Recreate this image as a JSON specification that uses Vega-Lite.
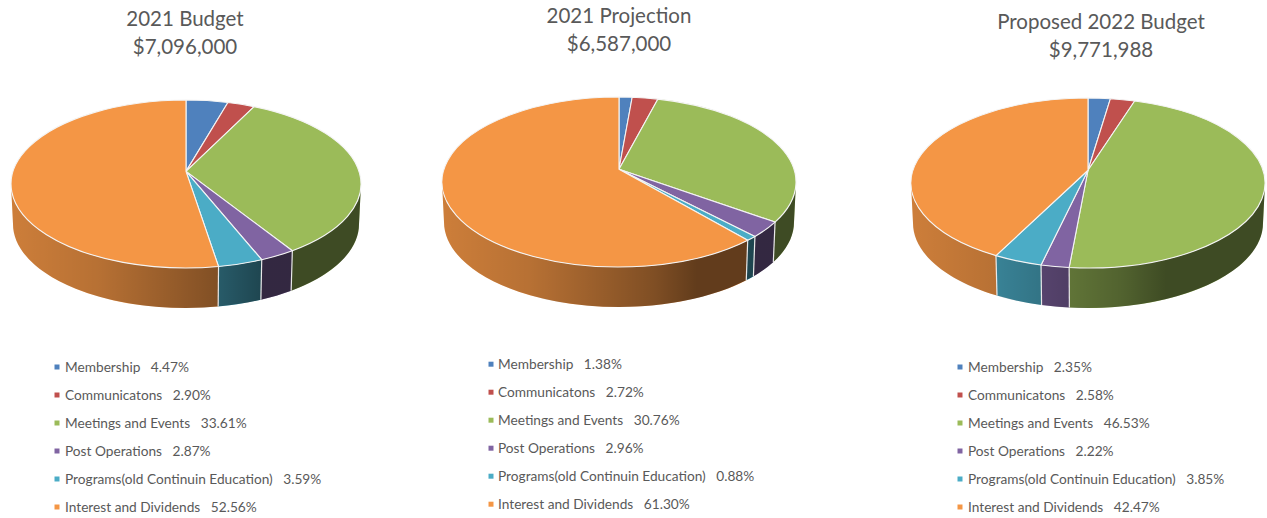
{
  "$schema": "https://vega.github.io/schema/vega-lite/v6.json",
  "autosize": {"type": "fit", "contains": "padding"},
  "width": 1267,
  "height": 518,
  "padding": 0,
  "background": "white",
  "view": {"stroke": null},
  "data": {"values": [
    {"panel": 0, "order": 0, "category": "Membership", "share": 4.47},
    {"panel": 0, "order": 1, "category": "Communicatons", "share": 2.90},
    {"panel": 0, "order": 2, "category": "Meetings and Events", "share": 33.61},
    {"panel": 0, "order": 3, "category": "Post Operations", "share": 2.87},
    {"panel": 0, "order": 4, "category": "Programs(old Continuin Education)", "share": 3.59},
    {"panel": 0, "order": 5, "category": "Interest and Dividends", "share": 52.56},
    {"panel": 1, "order": 0, "category": "Membership", "share": 1.38},
    {"panel": 1, "order": 1, "category": "Communicatons", "share": 2.72},
    {"panel": 1, "order": 2, "category": "Meetings and Events", "share": 30.76},
    {"panel": 1, "order": 3, "category": "Post Operations", "share": 2.96},
    {"panel": 1, "order": 4, "category": "Programs(old Continuin Education)", "share": 0.88},
    {"panel": 1, "order": 5, "category": "Interest and Dividends", "share": 61.30},
    {"panel": 2, "order": 0, "category": "Membership", "share": 2.35},
    {"panel": 2, "order": 1, "category": "Communicatons", "share": 2.58},
    {"panel": 2, "order": 2, "category": "Meetings and Events", "share": 46.53},
    {"panel": 2, "order": 3, "category": "Post Operations", "share": 2.22},
    {"panel": 2, "order": 4, "category": "Programs(old Continuin Education)", "share": 3.85},
    {"panel": 2, "order": 5, "category": "Interest and Dividends", "share": 42.47}
  ]},
  "transform": [
    {"stack": "share", "groupby": ["panel"], "sort": [{"field": "order", "order": "ascending"}], "as": ["s0", "s1"]},
    {"calculate": "datum.panel == 0 ? 175 : 177", "as": "rx"},
    {"calculate": "datum.rx - 2", "as": "rxb"},
    {"calculate": "datum.panel == 0 ? 84 : 85", "as": "ry"},
    {"calculate": "datum.s0 / 100 * 2 * PI", "as": "a0"},
    {"calculate": "datum.s1 / 100 * 2 * PI", "as": "a1"},
    {"calculate": "atan2(sin(datum.a0) * 0.9887, cos(datum.a0) + 0.15)", "as": "p0raw"},
    {"calculate": "atan2(sin(datum.a1) * 0.9887, cos(datum.a1) + 0.15)", "as": "p1raw"},
    {"calculate": "datum.p0raw < 0 ? datum.p0raw + 2 * PI : datum.p0raw", "as": "p0"},
    {"calculate": "datum.p1raw < 0 ? datum.p1raw + 2 * PI : datum.p1raw", "as": "p1"},
    {"calculate": "round(100 * datum.rx * sin(datum.p0)) / 100", "as": "x0"},
    {"calculate": "round(-100 * datum.ry * cos(datum.p0)) / 100", "as": "y0"},
    {"calculate": "round(100 * datum.rx * sin(datum.p1)) / 100", "as": "x1"},
    {"calculate": "round(-100 * datum.ry * cos(datum.p1)) / 100", "as": "y1"},
    {"calculate": "'M0 ' + round(-15 * datum.ry) / 100 + 'L' + datum.x0 + ' ' + datum.y0 + 'A' + datum.rx + ' ' + datum.ry + ' 0 ' + (datum.p1 - datum.p0 > PI ? 1 : 0) + ' 1 ' + datum.x1 + ' ' + datum.y1 + 'Z'", "as": "topPath"},
    {"calculate": "max(datum.p0, PI / 2)", "as": "t0"},
    {"calculate": "min(datum.p1, 3 * PI / 2)", "as": "t1"},
    {"calculate": "round(100 * datum.rx * sin(datum.t0)) / 100", "as": "rimX0"},
    {"calculate": "round(-100 * datum.ry * cos(datum.t0)) / 100", "as": "rimY0"},
    {"calculate": "round(100 * datum.rx * sin(datum.t1)) / 100", "as": "rimX1"},
    {"calculate": "round(-100 * datum.ry * cos(datum.t1)) / 100", "as": "rimY1"},
    {"calculate": "'M' + datum.rimX0 + ' ' + datum.rimY0 + 'A' + datum.rx + ' ' + datum.ry + ' 0 0 1 ' + datum.rimX1 + ' ' + datum.rimY1 + 'L' + round(100 * datum.rxb * sin(datum.t1)) / 100 + ' ' + (datum.rimY1 + 40) + 'A' + datum.rxb + ' ' + datum.ry + ' 0 0 0 ' + round(100 * datum.rxb * sin(datum.t0)) / 100 + ' ' + (datum.rimY0 + 40) + 'Z'", "as": "rimPath"},
    {"calculate": "'M' + (-datum.rx) + ' 0A' + datum.rx + ' ' + datum.ry + ' 0 0 0 ' + datum.rx + ' 0L' + datum.rxb + ' 40A' + datum.rxb + ' ' + datum.ry + ' 0 0 1 ' + (-datum.rxb) + ' 40Z'", "as": "wallPath"},
    {"calculate": "'M' + datum.x1 + ' ' + datum.y1 + 'L' + round(100 * datum.rxb * sin(datum.p1)) / 100 + ' ' + (datum.y1 + 40)", "as": "seamPath"}
  ],
  "layer": [
    {
      "description": "Coloured outer wall of each slice, front half only",
      "transform": [{"filter": "datum.t1 > datum.t0"}],
      "mark": {"type": "point", "filled": true, "opacity": 1, "size": 4, "strokeWidth": 0},
      "encoding": {
        "x": {"field": "panel", "type": "quantitative", "scale": {"domain": [0, 1, 2], "range": [186, 619, 1088]}, "axis": null},
        "y": {"field": "panel", "type": "quantitative", "scale": {"domain": [0, 1, 2], "range": [184, 182, 183]}, "axis": null},
        "shape": {"field": "rimPath", "type": "nominal", "scale": null},
        "fill": {"field": "category", "type": "nominal", "legend": null,
          "scale": {"domain": ["Membership", "Communicatons", "Meetings and Events", "Post Operations", "Programs(old Continuin Education)", "Interest and Dividends"],
                    "range": ["#4F81BD", "#C0504D", "#9BBB59", "#8064A2", "#4BACC6", "#F49645"]}}
      }
    },
    {
      "description": "Left-to-right shading across the whole wall",
      "transform": [{"filter": "datum.order == 0"}],
      "mark": {"type": "point", "filled": true, "opacity": 1, "size": 4, "strokeWidth": 0,
        "fill": {"gradient": "linear", "x1": 0, "y1": 0, "x2": 1, "y2": 0, "stops": [
          {"offset": 0, "color": "rgba(0,0,0,0.16)"},
          {"offset": 0.25, "color": "rgba(0,0,0,0.25)"},
          {"offset": 0.45, "color": "rgba(0,0,0,0.38)"},
          {"offset": 0.6, "color": "rgba(0,0,0,0.48)"},
          {"offset": 0.72, "color": "rgba(0,0,0,0.6)"},
          {"offset": 1, "color": "rgba(0,0,0,0.6)"}
        ]}},
      "encoding": {
        "x": {"field": "panel", "type": "quantitative", "scale": {"domain": [0, 1, 2], "range": [186, 619, 1088]}, "axis": null},
        "y": {"field": "panel", "type": "quantitative", "scale": {"domain": [0, 1, 2], "range": [184, 182, 183]}, "axis": null},
        "shape": {"field": "wallPath", "type": "nominal", "scale": null}
      }
    },
    {
      "description": "Light seams between slices on the wall",
      "transform": [{"filter": "datum.p1 > PI / 2 && datum.p1 < 3 * PI / 2"}],
      "mark": {"type": "point", "filled": false, "opacity": 1, "size": 4, "stroke": "#e8e8e8", "strokeWidth": 1.2},
      "encoding": {
        "x": {"field": "panel", "type": "quantitative", "scale": {"domain": [0, 1, 2], "range": [186, 619, 1088]}, "axis": null},
        "y": {"field": "panel", "type": "quantitative", "scale": {"domain": [0, 1, 2], "range": [184, 182, 183]}, "axis": null},
        "shape": {"field": "seamPath", "type": "nominal", "scale": null}
      }
    },
    {
      "description": "Top faces of the slices",
      "mark": {"type": "point", "filled": true, "opacity": 1, "size": 4, "stroke": "#f4f4f4", "strokeWidth": 1.1, "strokeJoin": "round"},
      "encoding": {
        "x": {"field": "panel", "type": "quantitative", "scale": {"domain": [0, 1, 2], "range": [186, 619, 1088]}, "axis": null},
        "y": {"field": "panel", "type": "quantitative", "scale": {"domain": [0, 1, 2], "range": [184, 182, 183]}, "axis": null},
        "shape": {"field": "topPath", "type": "nominal", "scale": null},
        "fill": {"field": "category", "type": "nominal", "legend": null,
          "scale": {"domain": ["Membership", "Communicatons", "Meetings and Events", "Post Operations", "Programs(old Continuin Education)", "Interest and Dividends"],
                    "range": ["#4F81BD", "#C0504D", "#9BBB59", "#8064A2", "#4BACC6", "#F49645"]}}
      }
    },
    {
      "description": "Legend swatches under each pie",
      "transform": [{"calculate": "datum.order + (datum.panel == 1 ? -0.1 : 0)", "as": "row"}],
      "mark": {"type": "square", "opacity": 1, "size": 25},
      "encoding": {
        "x": {"field": "panel", "type": "quantitative", "scale": {"domain": [0, 1, 2], "range": [57, 491, 960]}, "axis": null},
        "y": {"field": "row", "type": "quantitative", "scale": {"domain": [0, 5], "range": [367, 507]}, "axis": null},
        "fill": {"field": "category", "type": "nominal", "legend": null,
          "scale": {"domain": ["Membership", "Communicatons", "Meetings and Events", "Post Operations", "Programs(old Continuin Education)", "Interest and Dividends"],
                    "range": ["#4F81BD", "#C0504D", "#9BBB59", "#8064A2", "#4BACC6", "#F49645"]}}
      }
    },
    {
      "description": "Legend entries with each category's share",
      "transform": [
        {"calculate": "datum.order + (datum.panel == 1 ? -0.1 : 0)", "as": "row"},
        {"calculate": "datum.category + '\u00a0\u00a0\u00a0' + format(datum.share, '.2f') + '%'", "as": "entry"}
      ],
      "mark": {"type": "text", "align": "left", "baseline": "middle", "font": "Lato", "fontSize": 13.7, "color": "#595959"},
      "encoding": {
        "x": {"field": "panel", "type": "quantitative", "scale": {"domain": [0, 1, 2], "range": [65, 498, 968]}, "axis": null},
        "y": {"field": "row", "type": "quantitative", "scale": {"domain": [0, 5], "range": [367.5, 507.5]}, "axis": null},
        "text": {"field": "entry", "type": "nominal"}
      }
    },
    {
      "description": "Chart titles with the total for each budget",
      "data": {"values": [
        {"panel": 0, "heading": "2021 Budget\n$7,096,000"},
        {"panel": 1, "heading": "2021 Projection\n$6,587,000"},
        {"panel": 2, "heading": "Proposed 2022 Budget\n$9,771,988"}
      ]},
      "transform": [],
      "mark": {"type": "text", "align": "center", "baseline": "middle", "font": "Lato", "fontSize": 20.5, "lineHeight": 28, "lineBreak": "\n", "color": "#595959"},
      "encoding": {
        "x": {"field": "panel", "type": "quantitative", "scale": {"domain": [0, 1, 2], "range": [185, 619, 1101]}, "axis": null},
        "y": {"field": "panel", "type": "quantitative", "scale": {"domain": [0, 1, 2], "range": [20, 17, 23]}, "axis": null},
        "text": {"field": "heading", "type": "nominal"}
      }
    }
  ],
  "resolve": {"scale": {"x": "independent", "y": "independent", "fill": "shared"}}
}
